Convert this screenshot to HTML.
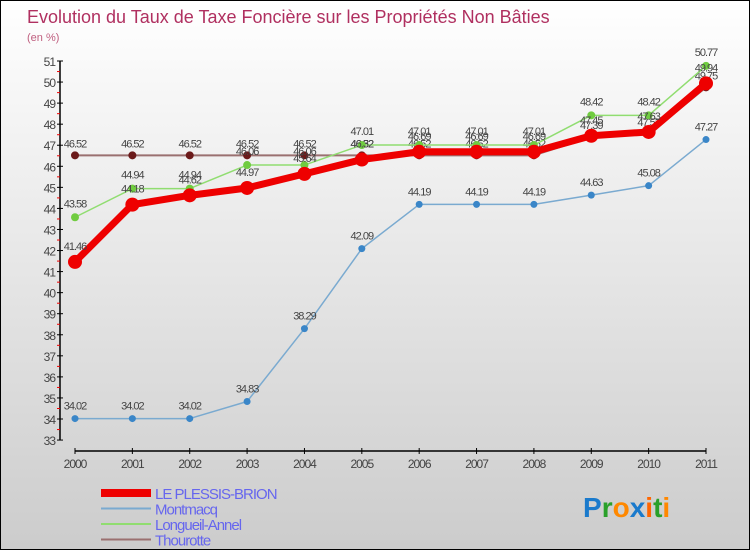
<!DOCTYPE html>
<html><head><meta charset="utf-8"><style>
body{margin:0;}
#wrap{position:relative;width:748px;height:548px;border:1px solid #000;background:linear-gradient(#ffffff,#cccccc);font-family:"Liberation Sans",sans-serif;overflow:hidden;}
</style></head><body>
<div id="wrap">
<svg id="chart" width="748" height="548"></svg>
</div>
<script>
const years=["2000","2001","2002","2003","2004","2005","2006","2007","2008","2009","2010","2011"];
const yTicks=[33,34,35,36,37,38,39,40,41,42,43,44,45,46,47,48,49,50,51];
const plessis=[41.46,44.18,44.62,44.97,45.64,46.32,46.69,46.69,46.69,47.45,47.63,49.94];
const montmacq=[34.02,34.02,34.02,34.83,38.29,42.09,44.19,44.19,44.19,44.63,45.08,47.27];
const longueil=[43.58,44.94,44.94,46.06,46.06,47.01,47.01,47.01,47.01,48.42,48.42,50.77];
const thourotte=[46.52,46.52,46.52,46.52,46.52,46.52,46.52,46.52,46.52,47.39,47.53,49.75];
const NS="http://www.w3.org/2000/svg";
const svg=document.getElementById('chart');
function xS(i){return 74+i*(705-74)/11;}
function yS(v){return 60+(51-v)*(418-60)/17;}
function el(t,a,p){const e=document.createElementNS(NS,t);for(const k in a)e.setAttribute(k,a[k]);(p||svg).appendChild(e);return e;}
function txt(s,a){const e=el('text',a);e.textContent=s;return e;}
const title=txt("Evolution du Taux de Taxe Foncière sur les Propriétés Non Bâties",{x:26,y:22,'font-size':18,fill:'#b03060'});

const unit=txt("(en %)",{x:26,y:40,'font-size':11,fill:'#c06080'});

// axes
const ax=el('g',{});
el('line',{x1:59,y1:yS(51),x2:59,y2:yS(33),stroke:'#000','stroke-width':1.5},ax);
el('line',{x1:74,y1:450,x2:705,y2:450,stroke:'#000','stroke-width':1.5},ax);
yTicks.forEach(v=>{const y=yS(v);
 el('line',{x1:56,y1:y,x2:62,y2:y,stroke:'#000'},ax);
 if(v<51)el('line',{x1:56,y1:y-10.5,x2:59,y2:y-10.5,stroke:'#e00'},ax);
 const t=txt(String(v),{x:54,y:y+5,'font-size':12,'text-anchor':'end',fill:'#444','letter-spacing':'-1'});
 });
years.forEach((yr,i)=>{const x=xS(i);
 el('line',{x1:x,y1:447,x2:x,y2:453,stroke:'#000'},ax);
 const t=txt(yr,{x:x,y:467,'font-size':12,'text-anchor':'middle',fill:'#444','letter-spacing':'-1'});
 });
function series(name,data,color,w,r,dot,labelDy){
 const g=el('g',{});
 el('polyline',{points:data.map((v,i)=>xS(i)+','+yS(v)).join(' '),fill:'none',stroke:color,'stroke-width':w,'stroke-linejoin':'round'},g);
 data.forEach((v,i)=>{const c=el('circle',{cx:xS(i),cy:yS(v),r:r,fill:dot},g);
  
  const t=el('text',{x:xS(i),y:yS(v)+labelDy,'font-size':11,'text-anchor':'middle',fill:'#444','letter-spacing':'-1'},g);
  t.textContent=String(v);});
}
series('series-thourotte',thourotte,'#9a7070',2,4,'#6b1a1a',-8);
series('series-montmacq',montmacq,'#7aaad0',1.5,3.5,'#3a86c8',-9);
series('series-longueil-annel',longueil,'#90dd70',1.5,4,'#70cc40',-10);
series('series-le-plessis-brion',plessis,'#ee0000',7,7,'#ee0000',-12);
// legend
const lg=[["LE PLESSIS-BRION","#ee0000",8],["Montmacq","#7aaad0",2],["Longueil-Annel","#90dd70",2],["Thourotte","#9a7070",2]];
lg.forEach((d,i)=>{const g=el('g',{});
 const y=492+i*15.5;
 el('line',{x1:100,y1:y,x2:150,y2:y,stroke:d[1],'stroke-width':d[2]},g);
 const t=el('text',{x:154,y:y+6,'font-size':15,fill:'#6666ee','letter-spacing':'-1'},g);t.textContent=d[0];});
const logo=el('text',{x:582,y:516,'font-size':28,'font-weight':'bold'});

[["P","#1a7acc"],["r","#2aa02a"],["o","#ff8800"],["x","#1a7acc"],["i","#ff6600"],["t","#2aa02a"],["i","#ff8800"]].forEach(c=>{const s=el('tspan',{fill:c[1]},logo);s.textContent=c[0];});
</script>
</body></html>
